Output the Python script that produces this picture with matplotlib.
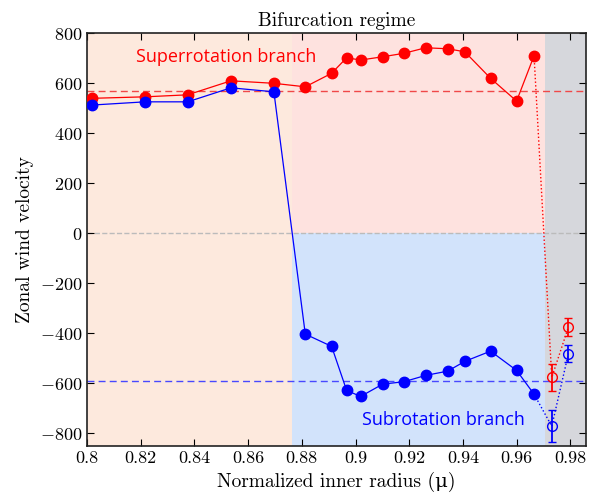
import numpy as np
import matplotlib
matplotlib.use("Agg")
import matplotlib.pyplot as plt

plt.rcParams['font.family'] = ['cmr10', 'DejaVu Serif']
plt.rcParams['mathtext.fontset'] = 'cm'
plt.rcParams['axes.formatter.use_mathtext'] = True

# dane
mu_fill = [0.8017, 0.8216, 0.8375, 0.8536, 0.8696, 0.8813, 0.8911, 0.8967, 0.9019,
           0.9101, 0.9181, 0.9261, 0.9343, 0.9407, 0.9503, 0.9600, 0.9665]
super_v = [539, 545, 553, 609, 599, 585, 639, 701, 692, 705, 719, 741, 737, 725, 619, 528, 709]
super_err = [0, 0, 0, 0, 0, 0, 0, 0, 0, 0, 0, 0, 0, 0, 0, 0, 12]
sub_v = [512, 525, 525, 581, 565, -403, -452, -628, -652, -603, -593, -568, -551, -512,
         -471, -548, -643]
sub_err = [0, 0, 0, 0, 0, 12, 0, 0, 0, 0, 0, 0, 0, 0, 0, 0, 0]

mu_open = [0.9731, 0.9793]
super_open = [-576, -375]
super_open_err = [55, 37]
sub_open = [-771, -481]
sub_open_err = [65, 35]

super_mean = 568
sub_mean = -589

x_bif = 0.8765
x_end = 0.9705
xlim = (0.8, 0.9858)
ylim = (-850, 800)

fig = plt.figure(figsize=(5.96, 5.0), dpi=100)
ax = fig.add_axes([0.146, 0.108, 0.837, 0.826])

# tla obszarow
ax.axvspan(xlim[0], x_bif, color='#fde9dd', lw=0, zorder=0)
ax.fill_between([x_bif, x_end], 0, ylim[1], color='#fee2df', lw=0, zorder=0)
ax.fill_between([x_bif, x_end], ylim[0], 0, color='#d2e3fb', lw=0, zorder=0)
ax.axvspan(x_end, xlim[1], color='#d6d7dc', lw=0, zorder=0)

ax.axhline(0, color='#bbbbbb', ls='--', lw=1, zorder=1)
ax.axhline(super_mean, color='#f04848', ls='--', lw=1, dashes=(5, 3), zorder=1)
ax.axhline(sub_mean, color='#4848ff', ls='--', lw=1, dashes=(5, 3), zorder=1)

red = '#ff0000'
blue = '#0000ff'

# linie kropkowane do pustych punktow
ax.plot([mu_fill[-1]] + mu_open, [super_v[-1]] + super_open, ':', color=red, lw=1, zorder=2)
ax.plot([mu_fill[-1]] + mu_open, [sub_v[-1]] + sub_open, ':', color=blue, lw=1, zorder=2)

ax.errorbar(mu_fill, super_v, yerr=super_err, fmt='-o', color=red, ms=7.5, lw=0.9,
            capsize=2, elinewidth=1, zorder=3)
ax.errorbar(mu_fill, sub_v, yerr=sub_err, fmt='-o', color=blue, ms=7.5, lw=0.9,
            capsize=2, elinewidth=1, zorder=3)

ax.errorbar(mu_open, super_open, yerr=super_open_err, fmt='o', color=red, mfc='none',
            ms=7, capsize=3, elinewidth=1.3, zorder=3)
ax.errorbar(mu_open, sub_open, yerr=sub_open_err, fmt='o', color=blue, mfc='none',
            ms=7, capsize=3, elinewidth=1.3, zorder=3)

ax.text(0.8182, 703, 'Superrotation branch', color=red, fontsize=13,
        family='Open Sans', va='center', ha='left')
ax.text(0.9023, -748, 'Subrotation branch', color=blue, fontsize=13,
        family='Open Sans', va='center', ha='left')

ax.set_xlim(xlim)
ax.set_ylim(ylim)
ax.set_xticks(np.arange(0.8, 0.981, 0.02))
ax.set_xticklabels(['0.8', '0.82', '0.84', '0.86', '0.88', '0.9', '0.92', '0.94', '0.96', '0.98'])
ax.set_yticks(np.arange(-800, 801, 200))
ax.tick_params(direction='in', top=True, right=True, labelsize=13, length=5)
for s in ax.spines.values():
    s.set_linewidth(1.2)
    s.set_color('#222222')

ax.set_title('Bifurcation regime', fontsize=14, pad=5)
ax.set_xlabel('Normalized inner radius (μ)', fontsize=14)
ax.set_ylabel('Zonal wind velocity', fontsize=14)

fig.savefig('out.png', dpi=100)
